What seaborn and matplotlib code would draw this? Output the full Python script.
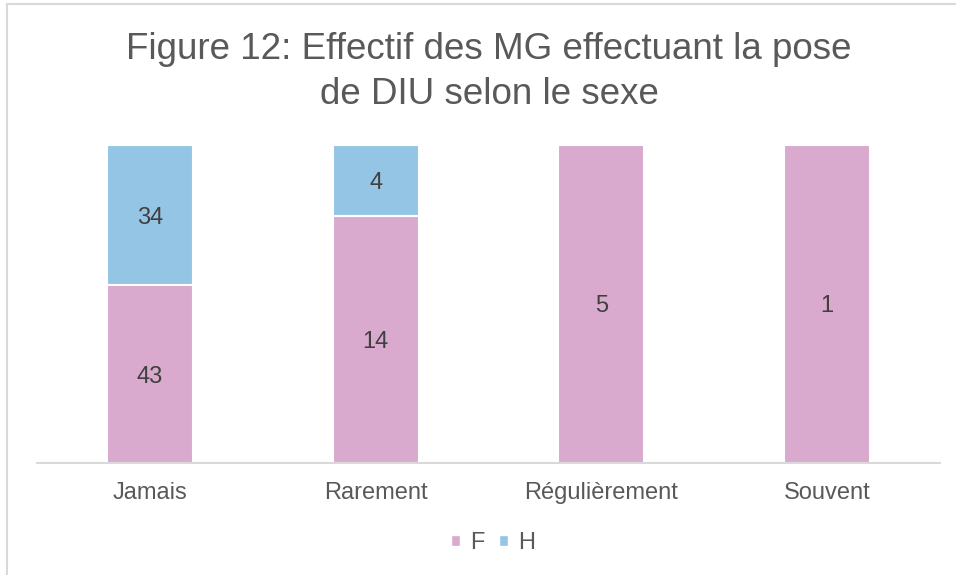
import matplotlib
matplotlib.use("Agg")
import matplotlib.pyplot as plt
import seaborn as sns
import pandas as pd
from matplotlib.lines import Line2D
from matplotlib.patches import Patch

categories = ["Jamais", "Rarement", "Régulièrement", "Souvent"]
f_counts = [43, 14, 5, 1]
h_counts = [34, 4, 0, 0]
series_names = ["F", "H"]
title = "Figure 12: Effectif des MG effectuant la pose\nde DIU selon le sexe"

PINK = "#D9A9CE"
BLUE = "#95C5E5"
TXT = "#595959"
LBL = "#404040"

sns.set_theme(style="white")
plt.rcParams["font.family"] = ["Liberation Sans", "DejaVu Sans"]

totals = [f + h for f, h in zip(f_counts, h_counts)]
df = pd.DataFrame({
    "cat": categories,
    "F": [f / t for f, t in zip(f_counts, totals)],
    "total": [1.0 for _ in totals],
})

fig = plt.figure(figsize=(9.56, 5.75), dpi=100)
ax = fig.add_axes([37 / 956, 112 / 575, 903 / 956, 318 / 575])

sns.barplot(data=df, x="cat", y="total", color=BLUE, saturation=1, width=0.38,
            edgecolor="white", linewidth=1.5, ax=ax)
sns.barplot(data=df, x="cat", y="F", color=PINK, saturation=1, width=0.38,
            edgecolor="white", linewidth=1.5, ax=ax)

for i, (f, h, t) in enumerate(zip(f_counts, h_counts, totals)):
    fp = f / t
    if f:
        ax.text(i, fp / 2, str(f), ha="center", va="center_baseline", fontsize=17, color=LBL)
    if h:
        ax.text(i, fp + (1 - fp) / 2, str(h), ha="center", va="center_baseline",
                fontsize=17, color=LBL)

ax.set_ylim(0, 1)
ax.set_xlim(-0.5, 3.5)
ax.set_xlabel("")
ax.set_ylabel("")
ax.set_yticks([])
for s in ["top", "right", "left"]:
    ax.spines[s].set_visible(False)
ax.spines["bottom"].set_color("#D9D9D9")
ax.spines["bottom"].set_linewidth(1.5)
ax.tick_params(axis="x", length=0, pad=14, labelsize=17, labelcolor=TXT)

fig.text(489 / 956, 1 - 72 / 575, title, ha="center", va="center",
         fontsize=26.5, color=TXT, linespacing=1.38)

handles = [Patch(facecolor=PINK, label=series_names[0]),
           Patch(facecolor=BLUE, label=series_names[1])]
fig.legend(handles=handles, loc="center", bbox_to_anchor=(493 / 956, 1 - 543 / 575),
           ncol=2, frameon=False, fontsize=17, handlelength=0.38, handleheight=0.38,
           handletextpad=0.45, columnspacing=0.6, labelcolor=TXT)

fig.add_artist(Line2D([7 / 956, 7 / 956], [0, 1 - 4 / 575], transform=fig.transFigure,
                      color="#D9D9D9", lw=1.5))
fig.add_artist(Line2D([7 / 956, 1], [1 - 4 / 575, 1 - 4 / 575], transform=fig.transFigure,
                      color="#D9D9D9", lw=1.5))

fig.savefig("out.png", dpi=100)
